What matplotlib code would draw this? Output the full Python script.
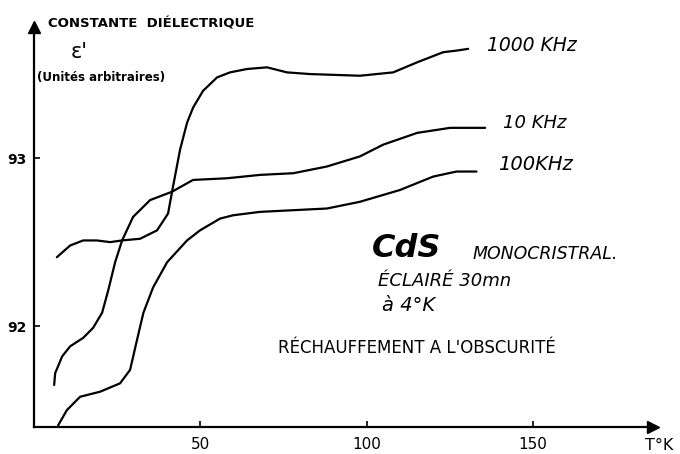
import matplotlib.pyplot as plt

# valeurs (T en K, constante dielectrique en unites arbitraires)
t_1000 = [7.0, 11.0, 14.9, 19.0, 23.0, 26.6, 32.0, 37.1, 40.4, 41.6, 44.0, 46.1, 47.9,
          50.9, 55.1, 59.0, 64.1, 70.1, 76.1, 83.0, 98.0, 108.0, 115.2, 123.0, 127.2, 130.5]
e_1000 = [92.41, 92.48, 92.51, 92.51, 92.50, 92.51, 92.52, 92.57, 92.67, 92.80, 93.05, 93.21, 93.30,
          93.40, 93.48, 93.51, 93.53, 93.54, 93.51, 93.50, 93.49, 93.51, 93.57, 93.63, 93.64, 93.65]

t_10 = [6.2, 6.5, 8.6, 11.0, 14.9, 17.9, 20.6, 22.4, 24.5, 26.6, 29.9, 35.0, 41.6, 47.9,
        58.1, 68.0, 78.0, 88.1, 98.0, 105.0, 115.2, 125.1, 135.6]
e_10 = [91.65, 91.72, 91.82, 91.88, 91.93, 91.99, 92.08, 92.21, 92.38, 92.51, 92.65, 92.75, 92.80, 92.87,
        92.88, 92.90, 92.91, 92.95, 93.01, 93.08, 93.15, 93.18, 93.18]

t_100 = [7.4, 10.0, 14.0, 20.0, 26.0, 29.0, 31.1, 33.0, 35.9, 40.1, 46.1, 50.0, 56.0, 60.0,
         68.0, 78.0, 88.1, 98.0, 110.0, 120.0, 127.0, 133.0]
e_100 = [91.41, 91.50, 91.58, 91.61, 91.66, 91.74, 91.92, 92.08, 92.23, 92.38, 92.51, 92.57, 92.64, 92.66,
         92.68, 92.69, 92.70, 92.74, 92.81, 92.89, 92.92, 92.92]

xticks = [50, 100, 150]
yticks = [92, 93]

fig = plt.figure(figsize=(6.8, 4.54), dpi=100)
ax = fig.add_axes([33.5/680, 27/454, (653-33.5)/680, 400/454])
ax.set_xlim(0, 186)
ax.set_ylim(91.4, 93.78)

kw = dict(color='black', lw=1.6, solid_capstyle='round', solid_joinstyle='round')
ax.plot(t_1000, e_1000, **kw)
ax.plot(t_10, e_10, **kw)
ax.plot(t_100, e_100, **kw)

for s in ['top', 'right']:
    ax.spines[s].set_visible(False)
for s in ['left', 'bottom']:
    ax.spines[s].set_linewidth(1.6)
ax.plot(1, 0, '>k', ms=8, transform=ax.transAxes, clip_on=False)
ax.plot(0, 1, '^k', ms=8, transform=ax.transAxes, clip_on=False)

ax.set_xticks(xticks)
ax.set_xticklabels([str(v) for v in xticks], fontsize=11)
ax.set_yticks(yticks)
ax.set_yticklabels([str(v) for v in yticks], fontsize=10, fontweight='bold')
ax.tick_params(axis='x', direction='in', length=4, width=1.2, pad=7)
ax.tick_params(axis='y', direction='in', length=4, width=1.2, pad=5)

# titres et legendes ecrits a la main
ax.text(4.4, 93.80, "CONSTANTE  DIÉLECTRIQUE", fontsize=9.5, fontweight='bold',
        ha='left', va='center', clip_on=False)
ax.text(13.6, 93.63, "ε'", fontsize=15, ha='center', va='center')
ax.text(20.3, 93.48, "(Unités arbitraires)", fontsize=8.5, fontweight='bold',
        ha='center', va='center')
ax.text(188, 91.29, "T°K", fontsize=11.5, ha='center', va='center', clip_on=False)

ax.text(136.2, 93.67, "1000 KHz", fontsize=13.5, style='italic', ha='left', va='center')
ax.text(141.0, 93.21, "10 KHz", fontsize=13, style='italic', ha='left', va='center')
ax.text(139.5, 92.96, "100KHz", fontsize=14, style='italic', ha='left', va='center')

ax.text(101.7, 92.46, "CdS", fontsize=23, style='italic', fontweight='bold', ha='left', va='center')
ax.text(131.7, 92.43, "MONOCRISTRAL.", fontsize=12.5, style='italic', ha='left', va='center')
ax.text(103.5, 92.27, "ÉCLAIRÉ 30mn", fontsize=13, style='italic', ha='left', va='center')
ax.text(104.7, 92.12, "à 4°K", fontsize=14, style='italic', ha='left', va='center')
ax.text(73.4, 91.87, "RÉCHAUFFEMENT A L'OBSCURITÉ", fontsize=12, ha='left', va='center')

fig.savefig('out.png', dpi=100)
